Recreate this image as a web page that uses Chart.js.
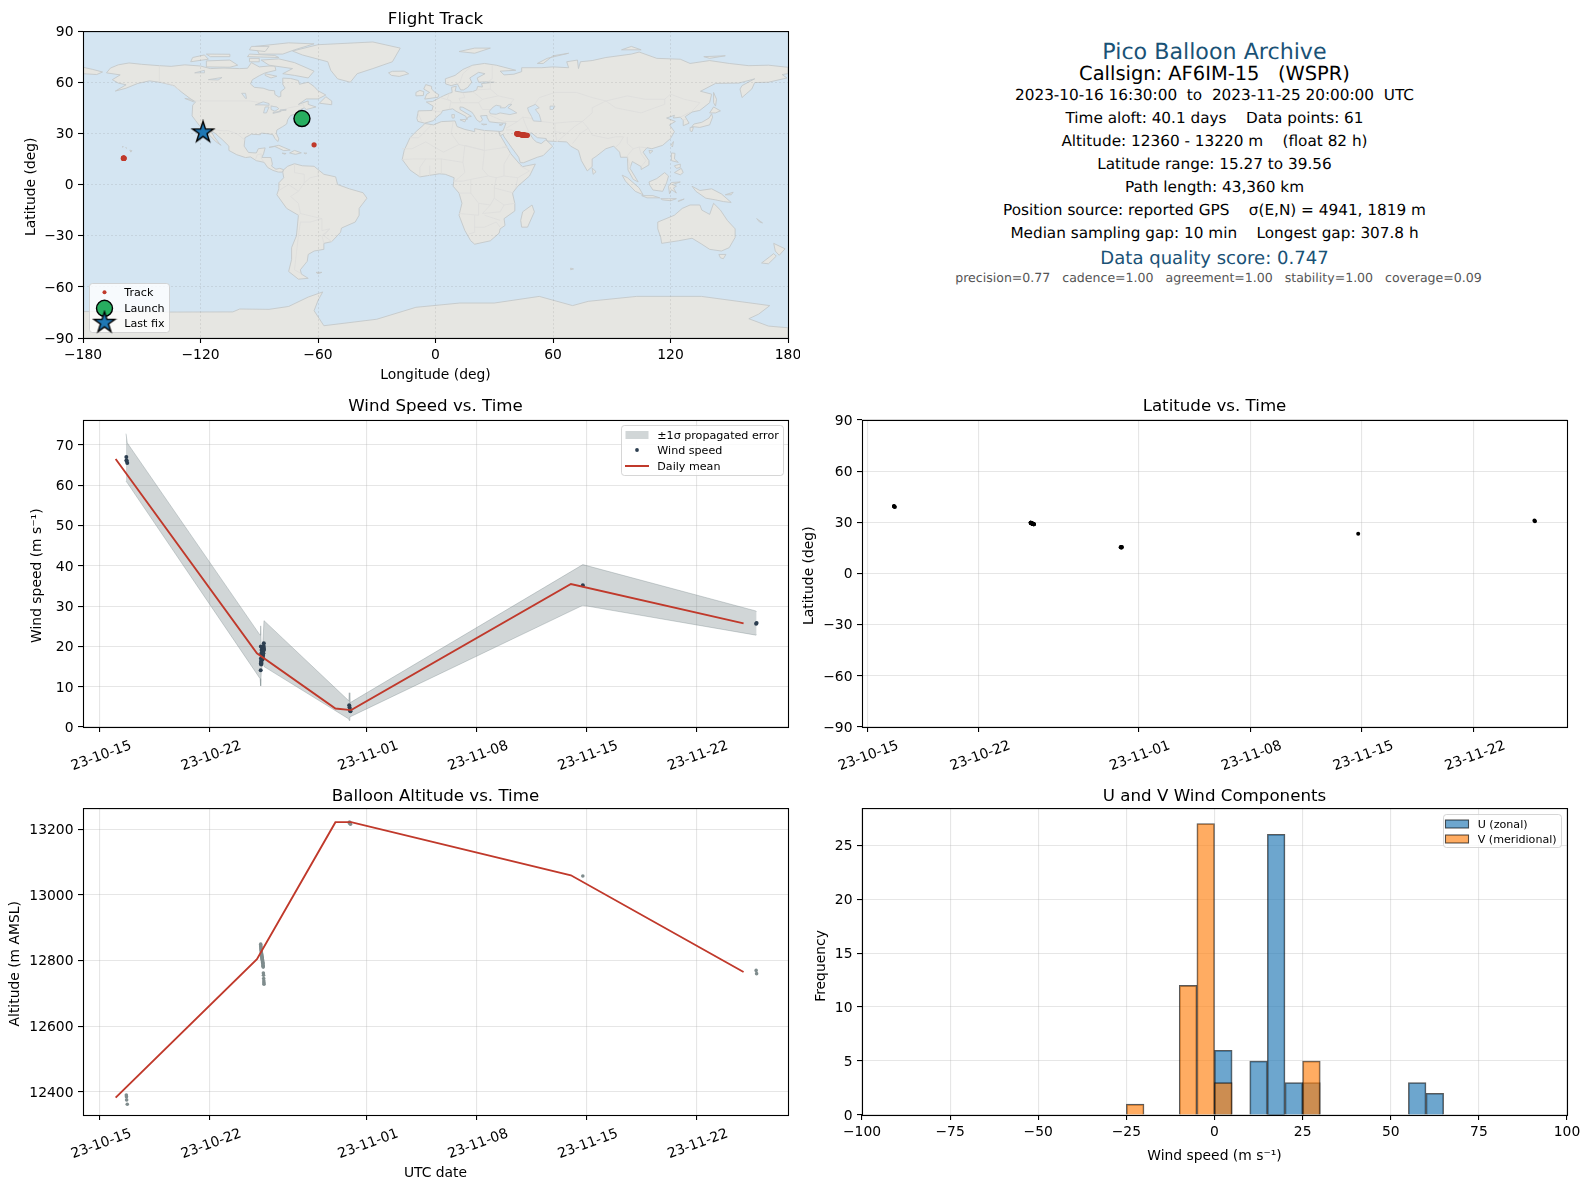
<!DOCTYPE html>
<html>
<head>
<meta charset="utf-8">
<title>Pico Balloon Archive</title>
<script src="https://cdn.jsdelivr.net/npm/chart.js@4"></script>
<style>
  html, body { margin: 0; padding: 0; background: #fff; }
  body { position: relative; width: 1590px; height: 1189px; overflow: hidden; font-family: "DejaVu Sans", sans-serif; text-rendering: geometricPrecision; }
  canvas { position: absolute; display: block; }
  .info { position: absolute; left: 800px; width: 829px; text-align: center; white-space: pre; line-height: 1; transform: translateY(-50%); color: #000; }
</style>
</head>
<body>
<canvas id="map-chart" width="800" height="390" style="left:0;top:0"></canvas>
<canvas id="wind-chart" width="800" height="390" style="left:0;top:390px"></canvas>
<canvas id="lat-chart" width="790" height="390" style="left:800px;top:390px"></canvas>
<canvas id="alt-chart" width="800" height="409" style="left:0;top:780px"></canvas>
<canvas id="hist-chart" width="790" height="409" style="left:800px;top:780px"></canvas>
<script>
// time values are days since 2023-10-15 00:00 UTC
const timeTicks = [0, 7, 17, 24, 31, 38];
const timeTickLabels = ['23-10-15', '23-10-22', '23-11-01', '23-11-08', '23-11-15', '23-11-22'];
const lonTicks = [-180, -120, -60, 0, 60, 120, 180];
const latTicks = [-90, -60, -30, 0, 30, 60, 90];
const windTicks = [0, 10, 20, 30, 40, 50, 60, 70];
const altTicks = [12400, 12600, 12800, 13000, 13200];
const histXTicks = [-100, -75, -50, -25, 0, 25, 50, 75, 100];
const histYTicks = [0, 5, 10, 15, 20, 25];

const fixDays = [1.68, 1.69, 1.70, 1.74,
  10.24, 10.245, 10.25, 10.255, 10.26, 10.27, 10.275, 10.28, 10.29, 10.295, 10.30, 10.31, 10.315, 10.32, 10.33, 10.335,
  10.34, 10.35, 10.355, 10.36, 10.37, 10.375, 10.38, 10.39, 10.395, 10.40, 10.41, 10.42, 10.43, 10.44, 10.445, 10.45,
  15.88, 15.90, 15.92, 15.94, 15.96, 30.76, 41.80, 41.83];
const fixWind = [67.0, 66.2, 66.0, 65.5,
  14.1, 15.7, 20.0, 17.0, 16.2, 15.5, 18.2, 16.4, 15.9, 19.1, 17.8, 16.6, 18.5, 16.8, 19.5, 17.2,
  18.0, 17.6, 19.2, 18.7, 16.9, 19.0, 17.4, 18.8, 19.4, 17.9, 18.3, 19.1, 20.1, 20.8, 19.6, 19.2,
  5.4, 4.9, 4.4, 4.0, 3.9, 35.2, 25.6, 25.8];
const fixAlt = [12390, 12385, 12375, 12362,
  12850, 12845, 12842, 12838, 12835, 12832, 12830, 12826, 12823, 12820, 12818, 12815, 12812, 12810, 12808, 12806,
  12804, 12802, 12800, 12797, 12795, 12792, 12790, 12786, 12783, 12780, 12762, 12755, 12745, 12738, 12732, 12728,
  13220, 13222, 13220, 13218, 13216, 13058, 12770, 12760];
const fixLat = [39.5, 39.3, 39.2, 39.0,
  29.8, 29.8, 29.7, 29.7, 29.7, 29.6, 29.6, 29.5, 29.5, 29.5, 29.4, 29.4, 29.4, 29.3, 29.3, 29.3,
  29.3, 29.2, 29.2, 29.2, 29.1, 29.1, 29.1, 29.1, 29.0, 29.0, 29.0, 29.0, 28.9, 28.9, 28.9, 28.9,
  15.4, 15.6, 15.3, 15.3, 15.5, 23.3, 31.0, 30.6];
const fixLon = [-68.4, -68.3, -68.2, -68.0,
  41.5, 41.6, 41.8, 41.9, 42.0, 42.2, 42.3, 42.5, 42.7, 42.8, 43.0, 43.1, 43.3, 43.4, 43.6, 43.7,
  43.9, 44.0, 44.2, 44.3, 44.5, 44.6, 44.8, 44.9, 45.1, 45.3, 45.5, 45.7, 46.0, 46.3, 46.6, 46.9,
  -159.4, -159.3, -159.2, -159.1, -159.0, -62.0, -118.8, -118.7];

// daily means
const meanDays = [1, 10, 15, 16, 30, 41];
const meanWind = [66.5, 18.3, 4.6, 4.2, 35.5, 25.7];
const meanAlt = [12382, 12804, 13222, 13222, 13060, 12765];

// +/- 1 sigma envelope of the wind speed
const bandDays = [1.66, 1.74, 10.2, 10.24, 10.28, 10.38, 10.45, 15.85, 15.88, 15.92, 30.76, 41.78, 41.83];
const bandUpper = [72.8, 70.5, 22.8, 25.1, 19.0, 21.0, 26.4, 6.5, 8.5, 6.0, 40.3, 28.8, 28.6];
const bandLower = [61.0, 60.6, 12.0, 10.2, 14.0, 16.0, 15.0, 2.0, 1.6, 2.5, 30.2, 22.8, 22.9];

// histogram bins are 5 m/s wide, values are the bin centres
const uBins = [2.5, 12.5, 17.5, 22.5, 27.5, 57.5, 62.5];
const uCounts = [6, 5, 26, 3, 3, 3, 2];
const vBins = [-22.5, -7.5, -2.5, 2.5, 27.5];
const vCounts = [1, 12, 27, 3, 5];

const launchFix = [[-68.2, 38.7]];
const lastFix = [[-118.7, 30.6]];

const infoLines = [
  'Pico Balloon Archive',
  'Callsign: AF6IM-15   (WSPR)',
  '2023-10-16 16:30:00  to  2023-11-25 20:00:00  UTC',
  'Time aloft: 40.1 days    Data points: 61',
  'Altitude: 12360 - 13220 m    (float 82 h)',
  'Latitude range: 15.27 to 39.56',
  'Path length: 43,360 km',
  'Position source: reported GPS    σ(E,N) = 4941, 1819 m',
  'Median sampling gap: 10 min    Longest gap: 307.8 h',
  'Data quality score: 0.747',
  'precision=0.77   cadence=1.00   agreement=1.00   stability=1.00   coverage=0.09',
];

// coastlines, rough outlines in lon/lat
const landPolys = [
  // North America
  [[-168,65.5],[-166,68.3],[-162,70.2],[-156.5,71.3],[-150,70.5],[-141,69.7],[-135,69.3],[-128,70.2],[-120,69.5],[-115,68],[-108,68.3],[-100,68],[-96,68.2],[-94,71.5],[-90,69],[-85,69.5],[-82,69.5],[-81.5,67],[-87,65.5],[-90,63.8],[-93.5,61.5],[-94.5,59],[-92.5,57],[-88,56.5],[-85,55.3],[-82.2,55],[-82,52.8],[-80,51.3],[-79,51.7],[-79,54.5],[-76.8,56.5],[-78,58.8],[-78,62.4],[-74,62.2],[-70,61],[-69.5,58.8],[-65,60],[-62,57.5],[-60,55],[-56,52.5],[-60,50.2],[-66,50.2],[-70,47],[-65,49],[-65,47],[-61,45.5],[-66,44],[-67,45],[-70,43.5],[-70,41.8],[-74,40.5],[-75.5,38],[-76,35.5],[-78,34],[-81,32],[-81.3,30],[-80,26.8],[-80.5,25.2],[-82,27],[-83,29.2],[-85,29.7],[-89,30.2],[-89.5,29.2],[-94,29.5],[-97.3,27.5],[-97.7,22.5],[-95.5,18.8],[-91.5,18.5],[-90.5,21],[-87,21.5],[-87.8,18],[-88.7,15.9],[-84,15.8],[-83.3,12],[-83.7,10.8],[-81.5,9],[-79.5,9.5],[-77.5,8.7],[-78.2,7.3],[-80.3,7.3],[-83,8.3],[-85.7,10],[-87.5,13],[-91.5,14],[-94.5,16.2],[-97,15.8],[-101.5,17.5],[-105.5,20],[-105.5,22.5],[-109,26.5],[-112.5,30],[-114.8,31.7],[-113,28],[-110.3,24],[-109.5,23],[-112,25],[-115,28.5],[-117.1,32.5],[-120.5,34.5],[-122.5,37.5],[-124.3,40.3],[-124,46.5],[-122.5,48.5],[-125,50.2],[-130,54.5],[-133.5,58],[-140,59.8],[-146,60.8],[-152,59.3],[-158,56.5],[-163.5,54.8],[-158,58.5],[-162,59.5],[-165,61.5],[-161,64.3]],
  // South America
  [[-77.5,8.7],[-75.5,10.7],[-72,12.2],[-68,11],[-62,10.7],[-57,6],[-51,4.5],[-50,0],[-44,-2.5],[-37,-4.8],[-35,-8],[-39,-14],[-39,-18],[-41,-22],[-48,-25.5],[-48.5,-28],[-53,-33.5],[-57,-34.5],[-57,-38],[-62,-39],[-65,-41],[-65.5,-45],[-69,-50],[-68.5,-52.5],[-65,-55],[-70,-55.5],[-75,-51],[-73.5,-44],[-73.5,-37],[-71,-30],[-70,-18],[-76,-14],[-81,-6],[-80,-2.5],[-80,1],[-77.5,4],[-78,7.3]],
  // Africa
  [[-5.5,35.8],[-1,35],[3,36.9],[10,37.3],[11,34],[15,32.3],[20,31],[20,32.8],[25,31.7],[32.5,31.2],[32.5,30],[35.5,24],[37.5,20],[38.5,18],[43,12],[44.5,10.5],[51,12],[48,5],[42,-1],[39.3,-5],[40.5,-11],[40.5,-15.5],[35,-20],[35.5,-24],[33,-26],[32.5,-28.5],[28,-33],[20,-35],[18,-33],[15,-27],[12,-18],[13.5,-11],[12,-5],[9,-1],[9.5,4],[5,6],[2,6.3],[-4,5.2],[-8,4.5],[-13,8.5],[-17,14.7],[-16,20],[-13,27.5],[-9.5,31.5],[-6,35]],
  // Eurasia
  [[-9,37],[-9.5,38.8],[-8.8,43.2],[-1.8,43.4],[-1.2,46],[-4.7,48.4],[-1.5,48.7],[1.5,50.5],[4,52],[7,53.5],[8.5,54],[8.2,57],[10.6,57.7],[10,54.8],[14,54],[19,54.5],[21,55.5],[21.5,57.5],[24,57.2],[23.5,59.2],[30,60],[25,60.2],[22,60],[21.3,62.5],[25.3,65],[22,65.8],[17.5,62.5],[18.5,60],[16.5,57],[14.3,55.5],[12.8,55.5],[11.2,59],[8,58],[5.2,59],[5,62],[10,64],[14,67.5],[19,70],[25,71],[31,70],[41,67],[33,66.5],[35,64.3],[40,64.7],[44,66.2],[44,68.5],[54,68.5],[60,69],[68,68.5],[67,72],[72.5,73],[73,68],[74,72],[80,72.7],[87,74.5],[100,76.5],[104,77.7],[113,74],[125,73.5],[130,71],[140,72.7],[150,71],[160,69.7],[170,70],[178,69],[180,68.8],[180,65],[177,64.5],[179.5,62.5],[170,60],[163,59.8],[161.5,56],[156.5,51],[155.5,56],[156.5,58],[163,62],[155,59.5],[143,59.3],[135.3,54.7],[141,53],[140,48],[135,43.5],[131,42.5],[127.5,39.8],[129.5,36],[126.5,34.5],[126.5,37.5],[125,39.5],[121.5,39],[122,40.6],[118,39],[122.5,37],[119.5,35],[122,31],[120,27],[116,23],[110.5,21],[108,21.6],[106,19],[109,14],[109,11.5],[105,8.8],[105,10.5],[100.5,13.5],[99.3,9.5],[103.5,1.5],[101,3],[98.3,8.5],[98,16],[94.5,16],[94,19],[91,22.5],[87,21],[82,16.5],[80,15],[80,10.5],[77.5,8],[74.5,14],[73,20],[69,22.5],[67,25],[57,25.5],[56.5,27],[52,27.5],[49,30.3],[48,30],[50,26.5],[51.5,25],[54,24],[56.4,26.3],[59.8,22.5],[55,17],[52,16],[45,12.8],[43.3,12.8],[42.5,16],[39,21.5],[35,28],[34.5,29.5],[33,28.5],[32.5,31],[34.5,31.5],[36,36],[32,36.2],[27.5,36.8],[26.3,39.5],[26.3,40.5],[23,40.3],[24,38],[22.8,36.5],[21,38],[19.5,41],[18.5,42.5],[14,45.3],[12.5,45.5],[12.5,44],[18.3,40],[16.5,39.5],[16,38],[15.5,40],[10.5,43],[8.8,44.4],[3.5,43.3],[3,41.8],[0,39],[-1,37.5],[-5.5,36]],
  // far east of Siberia, wraps round the date line
  [[-180,68.8],[-175,67.5],[-170,66],[-173,64.5],[-180,65]],
  // Arctic and Atlantic islands
  [[-73,78.3],[-60,82],[-32,83.6],[-18,80],[-22,72],[-32,68],[-40,65],[-43.5,60],[-50,62],[-53.5,67],[-55,72],[-68,76]],
  [[-24,65.5],[-22,66.4],[-16,66.5],[-13.7,65],[-18.5,63.4],[-22.5,64]],
  [[-5.5,50.1],[1.3,51.2],[1.7,52.7],[-0.2,54],[-2,56],[-2,57.6],[-5,58.6],[-6,56],[-3,54],[-4.5,53],[-5,51.7]],
  [[-10,52],[-6.2,52.2],[-6,54.5],[-8,55.2],[-10,54]],
  [[-80,73.7],[-72,71.5],[-62,66.5],[-65,62.5],[-72,64],[-78,65],[-73,68],[-85,70],[-89,73]],
  [[-117,69],[-105,68.8],[-101,70],[-105,73],[-117,72.5]],
  [[-125,72],[-116,73.5],[-118,76],[-124,74.5]],
  [[-90,76.5],[-78,76.5],[-72,79],[-62,82.5],[-75,83.1],[-92,81]],
  [[-96,75],[-80,74.5],[-82,75.7],[-95,76.5]],
  [[-115,75],[-105,75],[-105,76.4],[-117,76.5]],
  [[-95,79],[-87,78],[-85,81],[-94,81]],
  [[-95,72],[-90,72],[-90,74],[-95,74]],
  [[-87,65],[-81,63.5],[-84,62.5],[-87,64]],
  [[-59.3,47.7],[-53,46.8],[-53,49],[-56,51.5]],
  [[-128,50.5],[-125,50],[-123.5,48.5]],
  // Caribbean and Pacific
  [[-85,21.8],[-80,23],[-74.2,20.2],[-77.5,19.9],[-82,22.3]],
  [[-74.5,18.5],[-72,20],[-68.5,18.6],[-71.5,17.7]],
  [[-78.3,18.4],[-76.3,18.2],[-77,17.8]],
  [[-67.2,18.5],[-65.7,18.4],[-66.5,18]],
  [[-156.1,20.2],[-155,19.8],[-155.6,19]],
  [[-158.2,21.6],[-157.7,21.4],[-158,21.3]],
  [[-160,22.2],[-159.4,22.2],[-159.6,21.9]],
  [[-61,-51.5],[-58,-51.5],[-60,-52.3]],
  // Africa and Indian Ocean
  [[49.3,-12],[50.5,-16],[47,-25],[44,-25],[43.5,-21],[44.5,-16]],
  [[69,-49],[70.5,-49.5],[69,-50]],
  [[80,9.7],[82,7.5],[80.5,6]],
  // Australasia
  [[113.5,-22],[122,-18],[126,-14],[130,-12],[135,-12],[136,-15],[140,-17.5],[142,-11],[145.5,-15],[149,-21],[153,-26],[153,-31],[150,-37],[146,-39],[140,-38],[136,-35],[131,-31.5],[124,-33],[115.5,-34.5],[115,-31],[113.5,-26]],
  [[144.7,-41],[148.3,-41],[147,-43.5],[145.5,-43]],
  [[172.7,-34.5],[178.5,-37.7],[175.5,-41.5],[173.5,-39]],
  [[172.7,-40.5],[174,-42],[170,-46.5],[166.5,-46],[170.5,-42.5]],
  [[164,-20],[167,-22.5],[165.5,-22]],
  [[131,-1],[135,-3.5],[141,-2.5],[146,-5.5],[151,-10.5],[147,-10],[143,-9],[138,-8],[133,-4]],
  [[148,-6],[152,-4.5],[151,-6]],
  [[124,-9.5],[127,-8.5],[124,-10]],
  [[115,-8.3],[119,-8.3],[123,-8.3],[120,-9.5],[116,-9]],
  // East and South East Asia
  [[130.9,34],[135,33.5],[140,35],[141.5,39.5],[141,41.5],[139.7,39],[136,36.5],[132,35.5]],
  [[140,42],[142,45.5],[145.5,43.2],[143,42]],
  [[130,33.5],[131.7,33.5],[131,31],[130,31.5]],
  [[142,54],[143.5,50],[143,46],[142,48]],
  [[120.2,23],[121.5,25.2],[121,22]],
  [[109,20],[111,19.7],[109.5,18.2]],
  [[120.5,18.5],[122.3,18.3],[122,15],[124,13],[120.5,14]],
  [[122,7],[125.5,9.5],[126.5,7],[125,5.7]],
  [[122,11],[125,12],[125,10],[123,9.5]],
  [[95.3,5.5],[98,4],[104,-2],[106,-6],[102,-4],[97,2]],
  [[105.3,-6.5],[111,-6.5],[114.5,-7.8],[108,-7.8]],
  [[109,1.5],[113,3.5],[117,7],[119,5],[118,1],[116,-4],[111,-3.2],[109.5,-0.5]],
  [[119.5,-5.5],[119,-1],[120.5,1.2],[125,1.5],[121,0],[123,-1],[121.5,-2],[123,-5],[120.5,-3]],
  // Russian Arctic and Mediterranean islands
  [[12,78],[20,80],[28,80],[20,77]],
  [[52,71],[57,74],[68,77],[60,75.5],[55,71]],
  [[95,79],[105,79],[100,81]],
  [[137,75],[148,75.5],[140,74]],
  [[12.5,38],[15.5,38.2],[15,36.7]],
  [[8.3,41],[9.7,41],[9.5,39],[8.5,39]],
  [[23.5,35.5],[26.2,35.3],[24.5,35]],
  [[32.5,35],[34.5,35.6],[33.5,34.6]],
  // Antarctica
  [[-180,-74.5],[-140,-74.8],[-103.5,-74.7],[-100,-73],[-85,-73.2],[-75,-71.5],[-65,-66],[-57.6,-63],[-60,-68],[-62,-74],[-57,-82.8],[-30,-79],[-10,-72],[12.4,-69.5],[30,-69.5],[53,-65.6],[70,-71],[78,-68.5],[102.7,-65.6],[135.8,-65.6],[170.7,-71],[165,-76],[160,-78.7],[170,-83],[180,-84],[180,-90],[-180,-90]],
];

// seas and lakes cut back out of the land
const waterPolys = [
  [[28,41.5],[27.5,43],[29.5,45.5],[31,46.5],[33.5,45.9],[33,45],[35.5,45],[37.5,47],[39,47],[37,45],[39.5,43.5],[41.5,42],[38,41],[33,42],[31,41.2]],
  [[47,45],[51,47],[53,45],[51,44],[53,41],[54,37],[50,37.3],[49,40],[47.5,43]],
  [[58.5,46],[61,46],[60,44],[58.5,44]],
  [[-92,46.7],[-88,48.5],[-85,47.5],[-85,46.5],[-88,46.7]],
  [[-87.8,42],[-86.3,42],[-85,45.5],[-87,45.5]],
  [[-84,46],[-81,45.5],[-80,44.5],[-82,43],[-84,44]],
  [[-83,41.7],[-79,42.8],[-79,43.1],[-83,42.2]],
  [[-79.5,43.3],[-76.3,43.5],[-76.3,44.1],[-79.3,43.8]],
  [[-123,65.5],[-118,67],[-118,65.5]],
  [[-116,61.5],[-109,62.8],[-111,61.3]],
  [[-99,53.5],[-97,53.5],[-96.5,50.5],[-97,50.5]],
];

// country borders
const borderLines = [
  [[-141,69.7],[-141,60.3],[-135,58.7],[-130,55]],
  [[-123,49],[-95,49],[-89,48],[-83,46],[-82.5,42],[-79,43],[-75,45],[-70,46],[-67.5,47],[-67,45]],
  [[-117,32.5],[-108,31.5],[-106,31.7],[-101,29.5],[-97.3,26]],
  [[-92,14.5],[-91,17.5],[-89,18],[-89,15.5],[-87.5,13]],
  [[-72,12],[-72,7],[-67,6],[-67,1],[-70,-4],[-74,-7],[-70,-11],[-69,-17],[-70,-18]],
  [[-60,8],[-60,5],[-64,4],[-67,1]],
  [[-80,-3.5],[-75,0],[-70,-4]],
  [[-69,-17],[-58,-20],[-58,-27],[-54,-26],[-57,-30],[-53,-33.5]],
  [[-69,-22],[-70,-30],[-71,-40],[-72,-50],[-69,-52]],
  [[-58,-20],[-64,-22],[-69,-22]],
  [[-57,-34.5],[-58,-30],[-54,-26]],
  [[-9,42],[-7,37]],[[-1.8,43.4],[3,42.5]],
  [[2.5,51],[8,49],[7,44]],[[7,53.5],[6,50],[8,49]],[[8,48],[13,48],[17,48],[22,48],[24,44],[28,44]],
  [[14,54],[15,51],[12,50.5],[13,48]],[[19,54.5],[24,50],[22,48]],[[28,44],[29.5,45.5]],
  [[24,50],[32,52],[40,50],[38,47]],[[21,55.5],[28,56],[32,52]],[[28,56],[28,60]],
  [[29,70],[29,62],[27,60.5]],[[18,69],[14,65],[12.5,60],[11.2,59]],
  [[27,41],[35,37],[42,37],[44.5,39.5]],[[44.5,39.5],[46,35],[48,30]],[[36,33],[42,37]],[[36,32],[39,32],[47,29]],
  [[44.5,39.5],[48,39],[54,37],[61,36],[61,31],[62,25]],[[61,36],[71,37],[75,37]],[[61,31],[67,30],[71,34],[75,37]],
  [[62,25],[67,30]],[[75,37],[78,33],[74,30],[70,24]],[[78,33],[80,29],[88,27],[92,28],[96,28],[94,24],[92,22]],
  [[50,46],[53,51],[61,54],[72,54],[80,51],[87,49]],[[87,49],[98,52],[107,50],[117,50],[120,53],[127,50],[135,48],[131,43]],
  [[87,49],[92,45],[105,42],[112,45],[117,47],[117,50]],[[75,37],[80,42],[80,45],[87,49]],
  [[98,28],[98,24],[101,21],[104,22],[108,21.6]],[[101,21],[98,17],[99.5,10]],[[104,22],[105,18],[107.5,14],[105,10.5]],[[125,39.5],[130,42.5]],[[126,38],[128,38.3]],
  [[-8.5,27.5],[-13,27.5]],[[-17,21],[-12,21],[-5,25],[4,19],[12,23.5],[25,20],[37,22]],[[-2,35],[-8.5,27.5]],[[9,37],[8,30],[12,23.5]],
  [[25,31.7],[25,20],[24,9],[27,5],[31,4],[35,5],[42,4],[48,8],[43,11]],[[34,22],[37,22]],[[25,20],[15,23],[14,13],[15,7],[10,2]],
  [[-17,14.7],[-11,15],[-5,15],[3,15],[14,13]],[[3,15],[3,6.3]],[[-8,4.5],[-8,10],[-5,15]],[[-3,5],[-3,11]],[[35,5],[35,12],[38,18]],[[42,4],[41,-2]],
  [[31,4],[30,-2],[30,-8],[28,-12],[22,-11],[22,-18],[12,-17]],[[30,-2],[40,-5]],[[30,-8],[35,-12],[40.5,-11]],[[28,-12],[24,-17],[33,-16],[35,-12]],
  [[20,-18],[20,-28],[17,-29]],[[20,-25],[25,-25],[31,-22],[33,-25]],[[25,-18],[33,-21]],[[12,-5],[18,-5],[22,-11]],[[18,-5],[18,3],[27,5]],[[9,2],[14,2],[18,3]],
];

const panelGridColor = 'rgba(176, 176, 176, 0.32)';
const mapGridColor = 'rgba(128, 128, 128, 0.2)';
const spaceColor = '#1a5276';
const trackRed = '#c0392b';
const navy = '#2c3e50';
const slate = '#7f8c8d';
const bandFill = 'rgba(115, 130, 135, 0.33)';

Chart.defaults.font.family = '"DejaVu Sans", sans-serif';
Chart.defaults.color = '#000';
Chart.defaults.animation = false;
Chart.defaults.devicePixelRatio = 1;

// five pointed star, used as point style for the last fix
function makeStar(outer) {
  const size = Math.ceil(outer * 2 + 4);
  const c = document.createElement('canvas');
  c.width = size;
  c.height = size;
  const ctx = c.getContext('2d');
  ctx.beginPath();
  for (let i = 0; i < 10; i++) {
    const r = i % 2 ? outer * 0.382 : outer;
    const a = -Math.PI / 2 + i * Math.PI / 5;
    ctx.lineTo(size / 2 + r * Math.cos(a), size / 2 + r * Math.sin(a));
  }
  ctx.closePath();
  ctx.fillStyle = '#1f77b4';
  ctx.fill();
  ctx.strokeStyle = '#000';
  ctx.lineWidth = 1.4;
  ctx.lineJoin = 'miter';
  ctx.stroke();
  return c;
}
const starImage = makeStar(11);

// axis with fixed tick list, fixed box size and matplotlib looks
function axisOpts(opts) {
  const horizontal = opts.horizontal;
  const tickFormat = opts.labels
    ? (v) => opts.labels[opts.ticks.indexOf(v)]
    : (v) => String(v).replace('-', '\u2212');
  let labelOffset = horizontal ? 0 : 1.2;
  if (opts.rotate) labelOffset = 31;
  const axis = {
    type: 'linear',
    position: horizontal ? 'bottom' : 'left',
    min: opts.min,
    max: opts.max,
    afterBuildTicks: (scale) => { scale.ticks = opts.ticks.map((value) => ({ value })); },
    afterFit: (scale) => {
      if (horizontal) scale.height = opts.box;
      else scale.width = opts.box;
      // end labels must not push the plot area in
      scale.paddingLeft = 0;
      scale.paddingRight = 0;
      scale.paddingTop = 0;
      scale.paddingBottom = 0;
    },
    border: { display: false, dash: opts.dash },
    grid: {
      color: opts.gridColor || panelGridColor,
      lineWidth: opts.gridWidth || 1.1,
      tickColor: '#000',
      tickWidth: 1.1,
      tickLength: 5,
      drawTicks: true,
      offset: false,
    },
    ticks: {
      color: '#000',
      font: { size: 13.89 },
      padding: opts.rotate ? 5.5 : 4.5,
      autoSkip: false,
      maxRotation: opts.rotate || 0,
      minRotation: opts.rotate || 0,
      labelOffset,
      callback: tickFormat,
    },
    title: { display: false },
  };
  if (opts.title) {
    axis.title = {
      display: true,
      text: opts.title,
      color: '#000',
      font: { size: 13.89, lineHeight: 1 },
      padding: opts.titlePad,
    };
  }
  return axis;
}

function baseOptions(cfg) {
  return {
    responsive: false,
    animation: false,
    devicePixelRatio: 1,
    layout: { autoPadding: false, padding: { right: cfg.right, left: 0, top: 0, bottom: 0 } },
    plugins: {
      legend: { display: false },
      tooltip: { enabled: false },
      title: {
        display: true,
        fullSize: false,
        text: cfg.title,
        color: '#000',
        font: { size: 16.67, weight: 'normal', lineHeight: 1 },
        padding: cfg.titlePad,
      },
      panelLegend: cfg.legend || null,
    },
    scales: { x: cfg.x, y: cfg.y },
  };
}

// land polygons go in below the grid
const mapPlugin = {
  id: 'mapBackground',
  beforeDraw(chart) {
    if (chart.canvas.id !== 'map-chart') return;
    const { ctx, chartArea: a, scales: { x, y } } = chart;
    const trace = (pts) => pts.forEach(([lon, lat], i) => {
      const px = x.getPixelForValue(lon);
      const py = y.getPixelForValue(lat);
      if (i) ctx.lineTo(px, py);
      else ctx.moveTo(px, py);
    });
    ctx.save();
    ctx.beginPath();
    ctx.rect(a.left, a.top, a.width, a.height);
    ctx.clip();
    ctx.fillStyle = '#d4e5f2';
    ctx.fillRect(a.left, a.top, a.width, a.height);
    ctx.lineJoin = 'round';
    landPolys.forEach((pts) => {
      ctx.beginPath();
      trace(pts);
      ctx.closePath();
      ctx.fillStyle = '#e6e6e2';
      ctx.fill();
      ctx.strokeStyle = '#c4c8c9';
      ctx.lineWidth = 0.9;
      ctx.stroke();
    });
    borderLines.forEach((pts) => {
      ctx.beginPath();
      trace(pts);
      ctx.strokeStyle = '#dddddc';
      ctx.lineWidth = 0.8;
      ctx.stroke();
    });
    waterPolys.forEach((pts) => {
      ctx.beginPath();
      trace(pts);
      ctx.closePath();
      ctx.fillStyle = '#d4e5f2';
      ctx.fill();
      ctx.strokeStyle = '#c4c8c9';
      ctx.lineWidth = 0.8;
      ctx.stroke();
    });
    ctx.restore();
  },
};

// box round the plot, matplotlib draws all four spines
const framePlugin = {
  id: 'plotFrame',
  afterDatasetsDraw(chart) {
    const { ctx, chartArea: a } = chart;
    ctx.save();
    ctx.strokeStyle = '#000';
    ctx.lineWidth = 1.1;
    ctx.strokeRect(a.left + 0.5, a.top + 0.5, a.width, a.height);
    ctx.restore();
  },
};

// legend inside the axes
const legendPlugin = {
  id: 'panelLegend',
  afterDraw(chart, args, opts) {
    if (!opts || !opts.entries) return;
    const { ctx } = chart;
    const b = opts.box;
    ctx.save();
    ctx.beginPath();
    ctx.roundRect(b.x + 0.5, b.y + 0.5, b.w, b.h, 3);
    ctx.fillStyle = 'rgba(255, 255, 255, 0.8)';
    ctx.fill();
    ctx.strokeStyle = 'rgba(204, 204, 204, 0.8)';
    ctx.lineWidth = 1;
    ctx.stroke();
    opts.entries.forEach((e) => {
      const mx = opts.markerX;
      if (e.kind === 'patch') {
        ctx.fillStyle = e.color;
        ctx.fillRect(mx - 11.5, e.y - 4, 23, 8);
        if (e.edge) {
          ctx.strokeStyle = e.edge;
          ctx.lineWidth = 1.1;
          ctx.strokeRect(mx - 11.5, e.y - 4, 23, 8);
        }
      } else if (e.kind === 'line') {
        ctx.strokeStyle = e.color;
        ctx.lineWidth = 2;
        ctx.beginPath();
        ctx.moveTo(mx - 12, e.y);
        ctx.lineTo(mx + 12, e.y);
        ctx.stroke();
      } else if (e.kind === 'dot') {
        ctx.fillStyle = e.color;
        ctx.strokeStyle = e.edge || e.color;
        ctx.lineWidth = e.edge ? 1.4 : 0;
        ctx.beginPath();
        ctx.arc(mx, e.y, e.r, 0, Math.PI * 2);
        ctx.fill();
        if (e.edge) ctx.stroke();
      } else if (e.kind === 'star') {
        ctx.drawImage(starImage, mx - starImage.width / 2, e.y - starImage.height / 2);
      }
    });
    ctx.fillStyle = '#000';
    ctx.font = '11.11px "DejaVu Sans", sans-serif';
    ctx.textBaseline = 'middle';
    opts.entries.forEach((e) => ctx.fillText(e.label, opts.textX, e.y + 1));
    ctx.restore();
  },
};

Chart.register(mapPlugin, framePlugin, legendPlugin);

const pairs = (xs, ys) => xs.map((x, i) => ({ x, y: ys[i] }));

// ---- Flight track
new Chart(document.getElementById('map-chart'), {
  type: 'scatter',
  data: {
    datasets: [
      { label: 'Track', data: pairs(fixLon, fixLat), pointRadius: 2.6, pointBorderWidth: 0, backgroundColor: trackRed, order: 3 },
      { label: 'Launch', data: launchFix.map(([x, y]) => ({ x, y })), pointRadius: 8, pointBorderWidth: 1.4, backgroundColor: '#27ae60', borderColor: '#000', order: 2 },
      { label: 'Last fix', data: lastFix.map(([x, y]) => ({ x, y })), pointStyle: starImage, order: 1 },
    ],
  },
  options: baseOptions({
    title: 'Flight Track',
    titlePad: { top: 10.9, bottom: 3.5 },
    right: 12,
    x: axisOpts({ horizontal: true, min: -180, max: 180, ticks: lonTicks, box: 52, title: 'Longitude (deg)', titlePad: { bottom: 8 }, gridColor: mapGridColor, gridWidth: 0.9, dash: [2, 2] }),
    y: axisOpts({ min: -90, max: 90, ticks: latTicks, box: 83, title: 'Latitude (deg) ', titlePad: { top: 24.5 }, gridColor: mapGridColor, gridWidth: 0.9, dash: [2, 2] }),
    legend: {
      box: { x: 89, y: 283, w: 80, h: 49 },
      markerX: 104.5,
      textX: 124.3,
      entries: [
        { label: 'Track', kind: 'dot', color: trackRed, r: 2, y: 292.3 },
        { label: 'Launch', kind: 'dot', color: '#27ae60', edge: '#000', r: 8, y: 308.3 },
        { label: 'Last fix', kind: 'star', y: 322.7 },
      ],
    },
  }),
});

// ---- Wind speed vs. time
new Chart(document.getElementById('wind-chart'), {
  type: 'scatter',
  data: {
    datasets: [
      { label: 'Daily mean', data: pairs(meanDays, meanWind), showLine: true, pointRadius: 0, borderColor: trackRed, borderWidth: 1.9, order: 1 },
      { label: 'Wind speed', data: pairs(fixDays, fixWind), pointRadius: 2, pointBorderWidth: 0, backgroundColor: navy, order: 2 },
      { label: 'upper', data: pairs(bandDays, bandUpper), showLine: true, pointRadius: 0, borderColor: bandFill, borderWidth: 1, order: 4 },
      { label: '\u00b11\u03c3 propagated error', data: pairs(bandDays, bandLower), showLine: true, pointRadius: 0, borderColor: bandFill, borderWidth: 1, backgroundColor: bandFill, fill: '-1', order: 3 },
    ],
  },
  options: baseOptions({
    title: 'Wind Speed vs. Time',
    titlePad: { top: 8.8, bottom: 4.5 },
    right: 12,
    x: axisOpts({ horizontal: true, min: -1.08, max: 43.83, ticks: timeTicks, labels: timeTickLabels, box: 53, rotate: 20 }),
    y: axisOpts({ min: 0, max: 76.2, ticks: windTicks, box: 83, title: 'Wind speed (m s\u207b\u00b9) ', titlePad: { top: 30.6 } }),
    legend: {
      box: { x: 621, y: 35, w: 162, h: 50 },
      markerX: 637,
      textX: 657.3,
      entries: [
        { label: '\u00b11\u03c3 propagated error', kind: 'patch', color: bandFill, y: 45 },
        { label: 'Wind speed', kind: 'dot', color: navy, r: 1.9, y: 60 },
        { label: 'Daily mean', kind: 'line', color: trackRed, y: 76 },
      ],
    },
  }),
});

// ---- Latitude vs. time
new Chart(document.getElementById('lat-chart'), {
  type: 'scatter',
  data: {
    datasets: [
      { label: 'Latitude', data: pairs(fixDays, fixLat), pointRadius: 2, pointBorderWidth: 0, backgroundColor: '#000' },
    ],
  },
  options: baseOptions({
    title: 'Latitude vs. Time',
    titlePad: { top: 8.8, bottom: 4.5 },
    right: 23,
    x: axisOpts({ horizontal: true, min: -0.32, max: 43.84, ticks: timeTicks, labels: timeTickLabels, box: 53, rotate: 20 }),
    y: axisOpts({ min: -90, max: 90, ticks: latTicks, box: 62, title: 'Latitude (deg) ', titlePad: { top: 2.1 } }),
  }),
});

// ---- Altitude vs. time
new Chart(document.getElementById('alt-chart'), {
  type: 'scatter',
  data: {
    datasets: [
      { label: 'Daily mean', data: pairs(meanDays, meanAlt), showLine: true, pointRadius: 0, borderColor: trackRed, borderWidth: 1.9, order: 1 },
      { label: 'Altitude', data: pairs(fixDays, fixAlt), pointRadius: 1.8, pointBorderWidth: 0, backgroundColor: slate, order: 2 },
    ],
  },
  options: baseOptions({
    title: 'Balloon Altitude vs. Time',
    titlePad: { top: 8.2, bottom: 3.2 },
    right: 12,
    x: axisOpts({ horizontal: true, min: -1.08, max: 43.83, ticks: timeTicks, labels: timeTickLabels, box: 74, rotate: 20, title: 'UTC date', titlePad: { bottom: 9 } }),
    y: axisOpts({ min: 12329, max: 13265, ticks: altTicks, box: 83, title: 'Altitude (m AMSL) ', titlePad: { top: 8.3 } }),
  }),
});

// ---- U and V histogram
new Chart(document.getElementById('hist-chart'), {
  type: 'bar',
  data: {
    datasets: [
      { label: 'U (zonal)', data: pairs(uBins, uCounts), backgroundColor: 'rgba(31, 119, 180, 0.65)', borderColor: 'rgba(0, 0, 0, 0.65)', borderWidth: 1.1, order: 2 },
      { label: 'V (meridional)', data: pairs(vBins, vCounts), backgroundColor: 'rgba(255, 127, 14, 0.65)', borderColor: 'rgba(0, 0, 0, 0.65)', borderWidth: 1.1, order: 1 },
    ],
  },
  options: Object.assign(baseOptions({
    title: 'U and V Wind Components',
    titlePad: { top: 8.2, bottom: 3.2 },
    right: 23,
    x: Object.assign(axisOpts({ horizontal: true, min: -100, max: 100, ticks: histXTicks, box: 74, title: 'Wind speed (m s\u207b\u00b9)', titlePad: { bottom: 26 } }), { offset: false }),
    y: axisOpts({ min: 0, max: 28.43, ticks: histYTicks, box: 62, title: 'Frequency  ', titlePad: { top: 14.1 } }),
    legend: {
      box: { x: 643, y: 34, w: 118, h: 33 },
      markerX: 657,
      textX: 677.7,
      entries: [
        { label: 'U (zonal)', kind: 'patch', color: 'rgba(31, 119, 180, 0.65)', edge: 'rgba(0, 0, 0, 0.65)', y: 44 },
        { label: 'V (meridional)', kind: 'patch', color: 'rgba(255, 127, 14, 0.65)', edge: 'rgba(0, 0, 0, 0.65)', y: 59 },
      ],
    },
  }), { grouped: false, barPercentage: 1, categoryPercentage: 1 }),
});

// ---- Summary text panel
const infoStyles = [
  { y: 51.5, size: 22.2, color: spaceColor },
  { y: 74, size: 19.44, color: '#000' },
  { y: 96.2, size: 15.28, color: '#000' },
  { y: 119, size: 15.28, color: '#000' },
  { y: 142, size: 15.28, color: '#000' },
  { y: 165.2, size: 15.28, color: '#000' },
  { y: 188.3, size: 15.28, color: '#000' },
  { y: 211.2, size: 15.28, color: '#000' },
  { y: 234.2, size: 15.28, color: '#000' },
  { y: 258.5, size: 18.06, color: spaceColor },
  { y: 278, size: 12.55, color: '#555', dx: 4 },
];
infoLines.forEach((text, i) => {
  const div = document.createElement('div');
  div.className = 'info';
  div.textContent = text;
  div.style.top = infoStyles[i].y + 'px';
  div.style.fontSize = infoStyles[i].size + 'px';
  div.style.color = infoStyles[i].color;
  if (infoStyles[i].dx) div.style.marginLeft = infoStyles[i].dx + 'px';
  document.body.appendChild(div);
});
</script>
</body>
</html>
